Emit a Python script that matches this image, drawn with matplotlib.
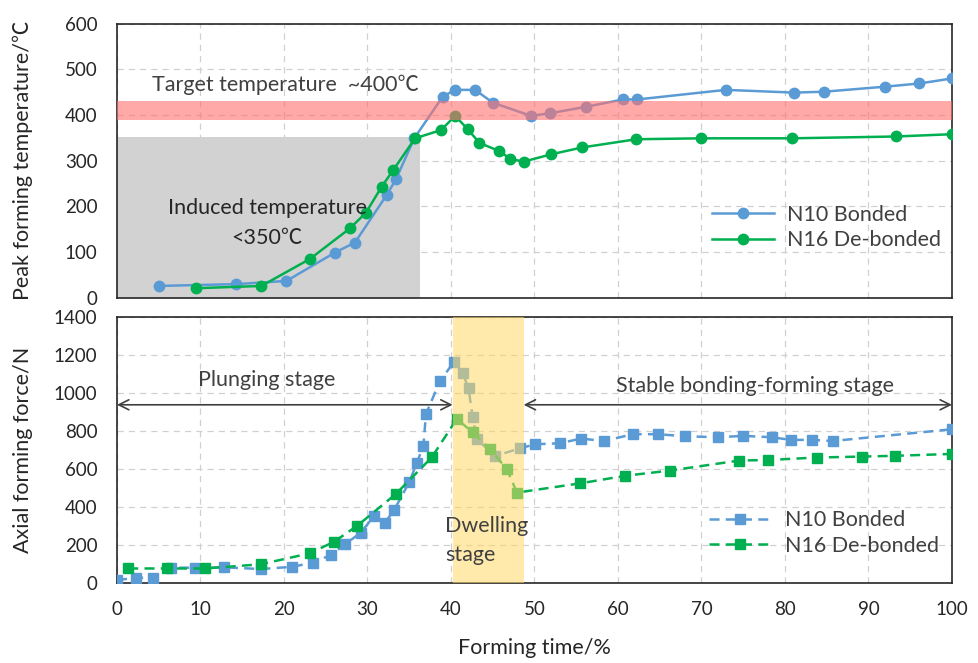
import matplotlib
matplotlib.use("Agg")
import matplotlib.pyplot as plt
from matplotlib.patches import Rectangle

plt.rcParams['font.family'] = ['Lato', 'Noto Sans CJK SC', 'DejaVu Sans']

# ---------------- data ----------------
# Top panel: peak forming temperature (deg C) vs forming time (%)
t_temp_n10 = [5, 14.3, 20.3, 26.1, 28.5, 32.3, 33.4, 35.6, 39.0, 40.5, 42.9, 45.0, 49.6,
              51.9, 56.2, 60.6, 62.3, 72.9, 81.1, 84.7, 92.0, 96.1, 100]
temp_n10 = [26, 30, 37, 99, 121, 225, 259, 349, 440, 455, 455, 427, 398,
            404, 418, 434, 434, 455, 449, 451, 462, 469, 480]
t_temp_n16 = [9.5, 17.3, 23.1, 27.9, 29.8, 31.7, 33.1, 35.7, 38.8, 40.5, 42.0, 43.4, 45.8,
              47.1, 48.7, 52.0, 55.7, 62.2, 70.0, 80.8, 93.3, 100]
temp_n16 = [21, 26, 85, 152, 186, 243, 280, 349, 367, 398, 369, 339, 321,
            304, 298, 314, 329, 347, 349, 349, 353, 358]

# Bottom panel: axial forming force (N) vs forming time (%)
t_force_n10 = [0, 2.3, 4.35, 6.5, 9.3, 12.8, 17.3, 21.0, 23.5, 25.6, 27.3, 29.2, 30.8, 32.1,
               33.2, 35.0, 35.9, 36.7, 37.0, 38.7, 40.4, 41.4, 42.1, 42.6, 43.1, 45.3, 48.3,
               50.1, 53.0, 55.6, 58.3, 61.8, 64.8, 68.0, 72.0, 75.0, 78.4, 80.7, 83.2, 85.7, 100]
force_n10 = [13, 25, 25, 78, 78, 80, 71, 83, 105, 145, 201, 263, 351, 316,
             383, 529, 629, 722, 888, 1064, 1165, 1104, 1024, 871, 755, 667, 708,
             729, 734, 759, 746, 782, 782, 771, 766, 773, 766, 752, 752, 746, 808]
t_force_n16 = [1.35, 5.95, 10.5, 17.2, 23.1, 26.0, 28.8, 33.4, 37.7, 40.7, 42.6, 44.7, 46.7,
               47.9, 55.5, 60.9, 66.2, 74.5, 78.0, 83.8, 89.2, 93.2, 100]
force_n16 = [74, 74, 74, 96, 154, 215, 300, 467, 660, 863, 791, 703, 597,
             474, 523, 563, 590, 643, 646, 659, 664, 668, 678]

x_ticks = [0, 10, 20, 30, 40, 50, 60, 70, 80, 90, 100]
temp_ticks = [0, 100, 200, 300, 400, 500, 600]
force_ticks = [0, 200, 400, 600, 800, 1000, 1200, 1400]

target_band = (390, 430)
induced_box = (0, 36.3, 352)      # x0, x1, top
dwell_band = (40.2, 48.7)
arrow_y = 937
labels = ["N10 Bonded", "N16 De-bonded"]

BLUE = '#5B9BD5'
GREEN = '#00B050'
TXT = '#404040'
FS_TICK = 13.5
FS = 15.5

fig = plt.figure(figsize=(9.79, 6.63), dpi=100)
ax1 = fig.add_axes([0.1195, 0.5508, 0.8529, 0.4136])
ax2 = fig.add_axes([0.1195, 0.1214, 0.8529, 0.4005])

for ax in (ax1, ax2):
    ax.set_xlim(0, 100)
    ax.set_xticks(x_ticks)
    ax.grid(True, linestyle=(0, (5, 4)), color='#D0D0D0', linewidth=0.9)
    ax.set_axisbelow(True)
    for s in ax.spines.values():
        s.set_color('#262626')
        s.set_linewidth(1.2)
    ax.tick_params(length=0, labelsize=FS_TICK, colors='#262626')
    ax.tick_params(axis='y', pad=14)
    ax.tick_params(axis='x', pad=13)

# ---- top panel ----
ax1.set_ylim(0, 600)
ax1.set_yticks(temp_ticks)
ax1.tick_params(axis='x', labelbottom=False)
ax1.add_patch(Rectangle((induced_box[0], 0), induced_box[1] - induced_box[0], induced_box[2],
                        facecolor='#D3D2D3', edgecolor='none', zorder=1))
l1, = ax1.plot(t_temp_n10, temp_n10, color=BLUE, lw=1.8, marker='o', ms=7.5, zorder=3)
l2, = ax1.plot(t_temp_n16, temp_n16, color=GREEN, lw=1.8, marker='o', ms=7.5, zorder=3)
ax1.add_patch(Rectangle((0, target_band[0]), 100, target_band[1] - target_band[0],
                        facecolor='#FF7070', alpha=0.6, edgecolor='none', zorder=4))
ax1.text(4.2, 466, "Target temperature  ~400℃", fontsize=FS, color=TXT, va='center', ha='left')
ax1.text(18.0, 164, "Induced temperature\n<350℃", fontsize=FS, color='#262626',
         va='center', ha='center', linespacing=1.6)
leg1 = ax1.legend([l1, l2], labels, loc='upper left', bbox_to_anchor=(0.689, 0.41),
                  frameon=False, fontsize=FS, handlelength=2.9, handletextpad=0.6,
                  labelspacing=0.25, labelcolor=TXT)
ax1.set_ylabel("Peak forming temperature/℃", fontsize=FS, color='#262626')
ax1.yaxis.set_label_coords(-0.1, 0.5)

# ---- bottom panel ----
ax2.set_ylim(0, 1400)
ax2.set_yticks(force_ticks)
l3, = ax2.plot(t_force_n10, force_n10, color=BLUE, lw=1.8, ls=(0, (4, 2.5)), marker='s', ms=6.5,
               zorder=3)
l4, = ax2.plot(t_force_n16, force_n16, color=GREEN, lw=1.8, ls=(0, (4, 2.5)), marker='s', ms=6.5,
               zorder=3)
ax2.axvspan(dwell_band[0], dwell_band[1], facecolor='#FFD966', alpha=0.55, edgecolor='none',
            zorder=4)
ax2.annotate("", xy=(0, arrow_y), xytext=(dwell_band[0], arrow_y),
             arrowprops=dict(arrowstyle='<->', color='#404040', lw=1.2, shrinkA=0, shrinkB=0,
                             mutation_scale=18))
ax2.annotate("", xy=(dwell_band[1], arrow_y), xytext=(100, arrow_y),
             arrowprops=dict(arrowstyle='<->', color='#404040', lw=1.2, shrinkA=0, shrinkB=0,
                             mutation_scale=18))
ax2.text(17.9, 1069, "Plunging stage", fontsize=FS, color=TXT, ha='center', va='center')
ax2.text(76.4, 1037, "Stable bonding-forming stage", fontsize=FS, color=TXT, ha='center',
         va='center')
ax2.text(39.3, 297, "Dwelling", fontsize=FS, color=TXT, ha='left', va='center', zorder=5)
ax2.text(39.3, 145, "stage", fontsize=FS, color=TXT, ha='left', va='center', zorder=5)
leg2 = ax2.legend([l3, l4], labels, loc='upper left', bbox_to_anchor=(0.686, 0.345),
                  frameon=False, fontsize=FS, handlelength=2.9, handletextpad=0.6,
                  labelspacing=0.25, labelcolor=TXT)
ax2.set_ylabel("Axial forming force/N", fontsize=FS, color='#262626')
ax2.yaxis.set_label_coords(-0.1, 0.5)
ax2.set_xlabel("Forming time/%", fontsize=FS, color='#262626', labelpad=15)

fig.savefig("out.png", dpi=100)
